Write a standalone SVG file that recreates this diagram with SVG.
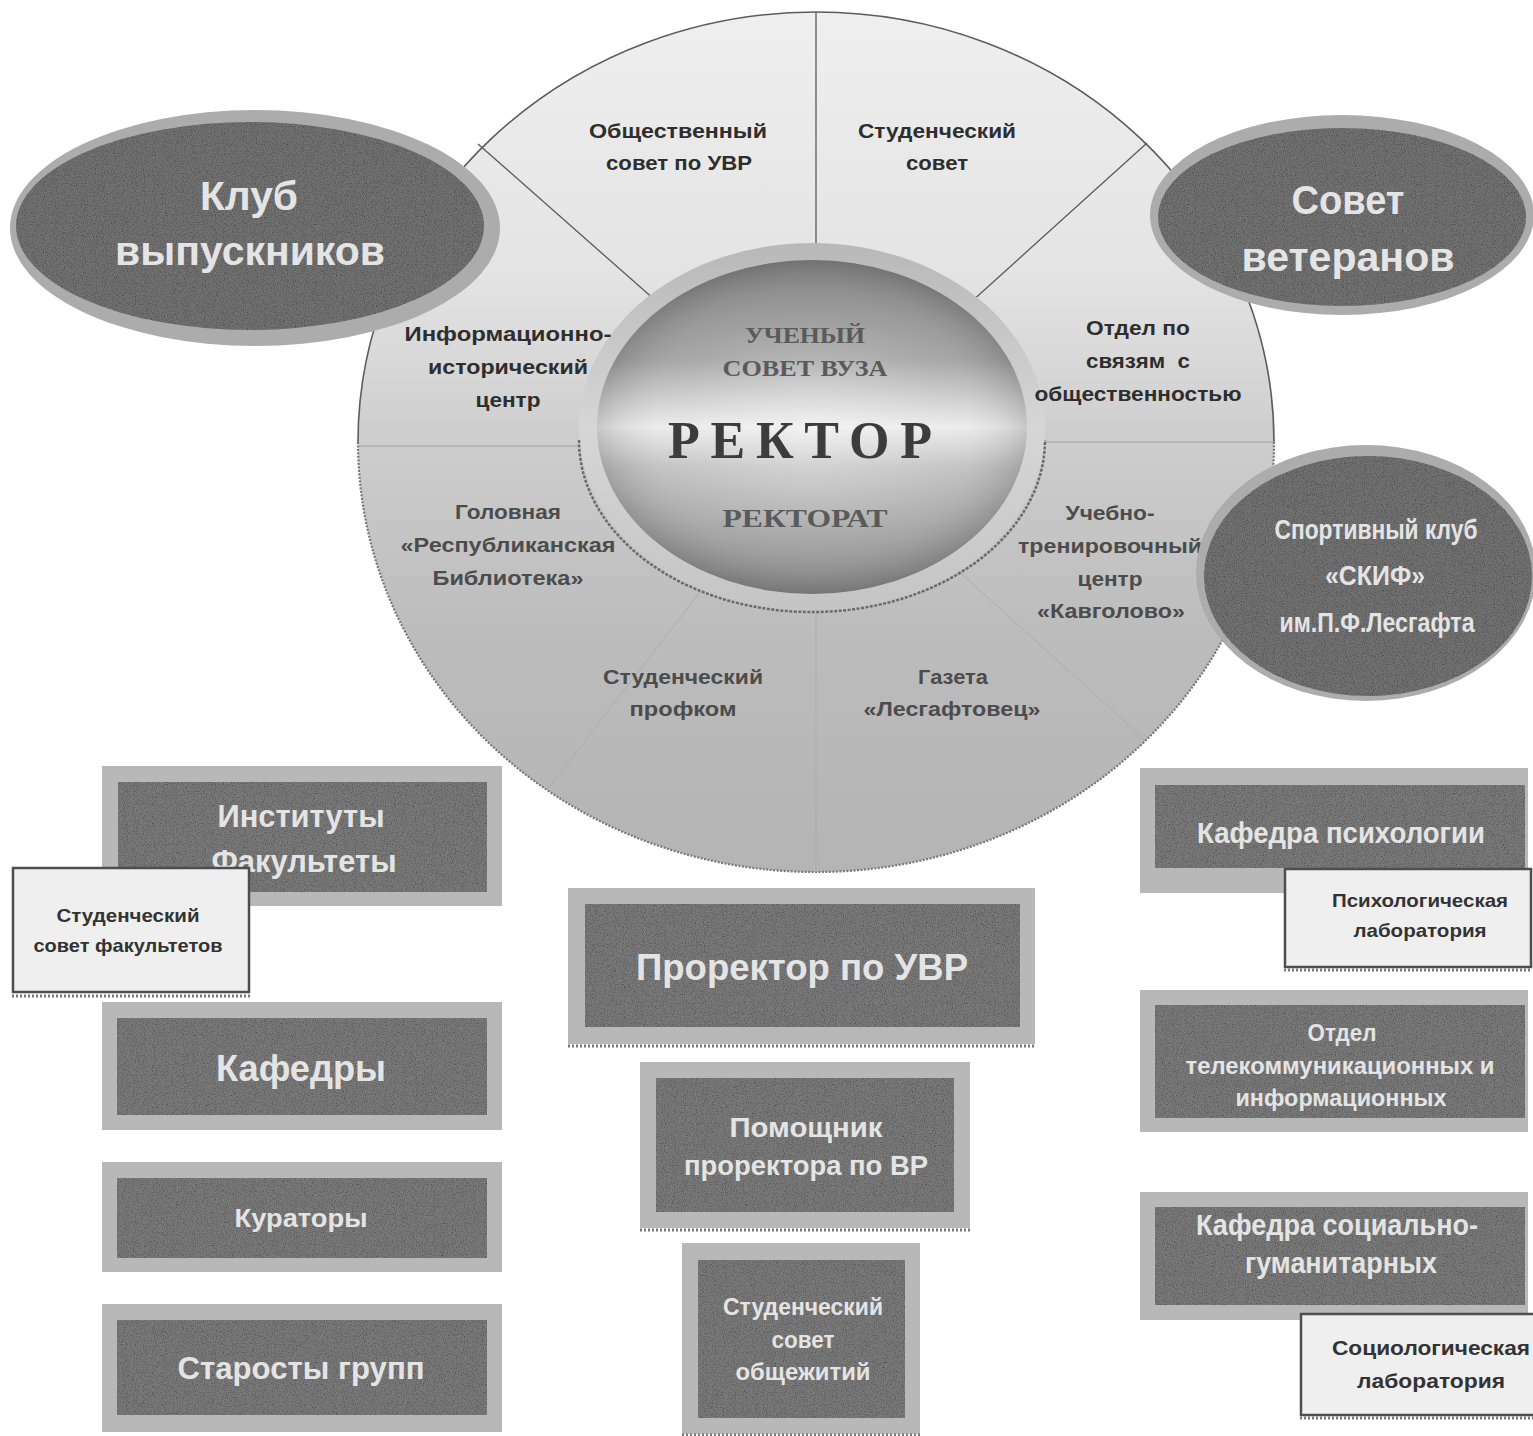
<svg xmlns="http://www.w3.org/2000/svg" width="1533" height="1436" viewBox="0 0 1533 1436">
<defs>
<style>
.lt{font-family:"Liberation Sans",Arial,sans-serif;font-weight:bold;fill:#e4e4e4;text-anchor:middle}
.dk{font-family:"Liberation Sans",Arial,sans-serif;font-weight:bold;fill:#2e2e2e;text-anchor:middle;font-size:21px}
.dk2{font-family:"Liberation Sans",Arial,sans-serif;font-weight:bold;fill:#4c4c4c;text-anchor:middle;font-size:21px}
.lab{font-family:"Liberation Sans",Arial,sans-serif;font-weight:bold;fill:#333;text-anchor:middle}
.sf{font-family:"Liberation Serif","Times New Roman",serif;font-weight:bold;text-anchor:middle}
.outer{fill:#b8b8b8}
.inner{fill:#7a7a7a}
.ringE{fill:#acacac}
.darkE{fill:#727272}
.spoke{stroke:#5a5a5a;stroke-width:1.3;fill:none}
.spokeF{stroke:#a0a0a0;stroke-width:1.2;fill:none}
.spokeL{stroke:#adadad;stroke-width:1;fill:none}
.box{fill:#efefef;stroke:#4e4e4e;stroke-width:2.5}
.dots{stroke:#777;stroke-width:3;stroke-dasharray:2 2;fill:none}
</style>
<linearGradient id="circG" x1="0" y1="0" x2="0" y2="1">
<stop offset="0" stop-color="#efefef"/>
<stop offset="0.3" stop-color="#e4e4e4"/>
<stop offset="0.5" stop-color="#cdcdcd"/>
<stop offset="0.72" stop-color="#bcbcbc"/>
<stop offset="1" stop-color="#b4b4b4"/>
</linearGradient>
<linearGradient id="ringG" x1="0" y1="0" x2="0" y2="1">
<stop offset="0" stop-color="#b8b8b8"/>
<stop offset="0.5" stop-color="#d6d6d6"/>
<stop offset="1" stop-color="#c4c4c4"/>
</linearGradient>
<linearGradient id="coreG" x1="0" y1="0" x2="0" y2="1">
<stop offset="0" stop-color="#858585"/>
<stop offset="0.3" stop-color="#a4a4a4"/>
<stop offset="0.5" stop-color="#ebebeb"/>
<stop offset="0.62" stop-color="#c2c2c2"/>
<stop offset="1" stop-color="#8a8a8a"/>
</linearGradient>
<radialGradient id="coreH" cx="0.5" cy="0.5" r="0.5">
<stop offset="0" stop-color="#ffffff" stop-opacity="0.35"/>
<stop offset="0.7" stop-color="#ffffff" stop-opacity="0.05"/>
<stop offset="1" stop-color="#000000" stop-opacity="0.15"/>
</radialGradient>
<filter id="grain" x="0" y="0" width="100%" height="100%">
<feTurbulence type="fractalNoise" baseFrequency="0.9" numOctaves="2" seed="4" result="n"/>
<feColorMatrix in="n" type="matrix" values="0 0 0 0 0  0 0 0 0 0  0 0 0 0 0  1.4 0 0 0 -0.6" result="g"/>
<feComposite in="g" in2="SourceGraphic" operator="in" result="gm"/>
<feMerge><feMergeNode in="SourceGraphic"/><feMergeNode in="gm"/></feMerge>
</filter>
</defs>
<rect width="1533" height="1436" fill="#ffffff"/>

<g id="main-circle">
<ellipse cx="816" cy="442" rx="458" ry="430" fill="url(#circG)"/>
<path d="M358,442 A458,430 0 0 1 1274,442" fill="none" stroke="#5c5c5c" stroke-width="1.6"/>
<path d="M358,442 A458,430 0 0 0 1274,442" fill="none" stroke="#777" stroke-width="2.2" stroke-dasharray="2 1.5"/>
</g>

<g id="connectors">
<line class="spoke" x1="816" y1="442" x2="816" y2="12"/>
<line class="spoke" x1="816" y1="442" x2="478" y2="144"/>
<line class="spoke" x1="816" y1="442" x2="1147" y2="143"/>
<line class="spokeF" x1="816" y1="446" x2="358" y2="446"/>
<line class="spokeF" x1="816" y1="442" x2="1274" y2="442"/>
<line class="spokeL" x1="816" y1="442" x2="547" y2="790"/>
<line class="spokeL" x1="816" y1="442" x2="1145" y2="740"/>
<line class="spokeL" x1="816" y1="442" x2="816" y2="872"/>
</g>

<g id="rector">
<ellipse cx="812" cy="428" rx="233" ry="185" fill="url(#ringG)"/>
<path d="M579,440 A233,172 0 0 0 1045,440" fill="none" stroke="#6a6a6a" stroke-width="2.5" stroke-dasharray="3 1.5"/>
<ellipse cx="812" cy="427" rx="215" ry="167" fill="url(#coreG)"/>
<ellipse cx="812" cy="427" rx="215" ry="167" fill="url(#coreH)"/>
<text class="sf" x="805" y="343" font-size="24" fill="#5a5a5a" textLength="120" lengthAdjust="spacingAndGlyphs">УЧЕНЫЙ</text>
<text class="sf" x="805" y="376" font-size="24" fill="#5a5a5a" textLength="165" lengthAdjust="spacingAndGlyphs">СОВЕТ ВУЗА</text>
<text class="sf" x="800" y="458" font-size="52" fill="#3c3c3c" textLength="264" lengthAdjust="spacing">РЕКТОР</text>
<text class="sf" x="805" y="527" font-size="26" fill="#5a5a5a" textLength="165" lengthAdjust="spacingAndGlyphs">РЕКТОРАТ</text>
</g>

<g id="sector-obshch-sovet">
<text class="dk" x="678" y="138" textLength="178" lengthAdjust="spacingAndGlyphs">Общественный</text>
<text class="dk" x="679" y="170" textLength="146" lengthAdjust="spacingAndGlyphs">совет по УВР</text>
</g>
<g id="sector-stud-sovet">
<text class="dk" x="937" y="138" textLength="158" lengthAdjust="spacingAndGlyphs">Студенческий</text>
<text class="dk" x="937" y="170" textLength="62" lengthAdjust="spacingAndGlyphs">совет</text>
</g>
<g id="sector-info-center">
<text class="dk" x="508" y="341" textLength="207" lengthAdjust="spacingAndGlyphs">Информационно-</text>
<text class="dk" x="508" y="374" textLength="160" lengthAdjust="spacingAndGlyphs">исторический</text>
<text class="dk" x="508" y="407" textLength="65" lengthAdjust="spacingAndGlyphs">центр</text>
</g>
<g id="sector-pr">
<text class="dk" x="1138" y="335" textLength="104" lengthAdjust="spacingAndGlyphs">Отдел по</text>
<text class="dk" x="1138" y="368" textLength="104" lengthAdjust="spacingAndGlyphs" xml:space="preserve">связям  с</text>
<text class="dk" x="1138" y="401" textLength="207" lengthAdjust="spacingAndGlyphs">общественностью</text>
</g>
<g id="sector-library">
<text class="dk2" x="508" y="519" textLength="106" lengthAdjust="spacingAndGlyphs">Головная</text>
<text class="dk2" x="508" y="552" textLength="215" lengthAdjust="spacingAndGlyphs">«Республиканская</text>
<text class="dk2" x="508" y="585" textLength="151" lengthAdjust="spacingAndGlyphs">Библиотека»</text>
</g>
<g id="sector-kavgolovo">
<text class="dk2" x="1110" y="520" textLength="89" lengthAdjust="spacingAndGlyphs">Учебно-</text>
<text class="dk2" x="1110" y="553" textLength="184" lengthAdjust="spacingAndGlyphs">тренировочный</text>
<text class="dk2" x="1110" y="586" textLength="65" lengthAdjust="spacingAndGlyphs">центр</text>
<text class="dk2" x="1111" y="618" textLength="148" lengthAdjust="spacingAndGlyphs">«Кавголово»</text>
</g>
<g id="sector-profkom">
<text class="dk2" x="683" y="684" fill="#5a5a5a" textLength="160" lengthAdjust="spacingAndGlyphs">Студенческий</text>
<text class="dk2" x="683" y="716" fill="#5a5a5a" textLength="107" lengthAdjust="spacingAndGlyphs">профком</text>
</g>
<g id="sector-gazeta">
<text class="dk2" x="953" y="684" fill="#5a5a5a" textLength="70" lengthAdjust="spacingAndGlyphs">Газета</text>
<text class="dk2" x="952" y="716" fill="#5a5a5a" textLength="177" lengthAdjust="spacingAndGlyphs">«Лесгафтовец»</text>
</g>

<g id="klub-vypusknikov">
<ellipse class="ringE" cx="255" cy="228" rx="245" ry="118"/>
<ellipse class="darkE" cx="250" cy="226" rx="234" ry="104" filter="url(#grain)"/>
<text class="lt" x="249" y="210" font-size="40" textLength="98" lengthAdjust="spacingAndGlyphs">Клуб</text>
<text class="lt" x="250" y="265" font-size="40" textLength="270" lengthAdjust="spacingAndGlyphs">выпускников</text>
</g>

<g id="sovet-veteranov">
<ellipse class="ringE" cx="1342" cy="215" rx="192" ry="100"/>
<ellipse class="darkE" cx="1342" cy="217" rx="184" ry="89" filter="url(#grain)"/>
<text class="lt" x="1348" y="214" font-size="40" textLength="113" lengthAdjust="spacingAndGlyphs">Совет</text>
<text class="lt" x="1348" y="271" font-size="40" textLength="213" lengthAdjust="spacingAndGlyphs">ветеранов</text>
</g>

<g id="sport-klub">
<ellipse class="ringE" cx="1366" cy="573" rx="170" ry="128"/>
<ellipse class="darkE" cx="1368" cy="576" rx="164" ry="120" filter="url(#grain)"/>
<text class="lt" x="1376" y="539" font-size="28" font-weight="normal" textLength="203" lengthAdjust="spacingAndGlyphs">Спортивный клуб</text>
<text class="lt" x="1375" y="585" font-size="28" font-weight="normal" textLength="100" lengthAdjust="spacingAndGlyphs">«СКИФ»</text>
<text class="lt" x="1377" y="632" font-size="28" font-weight="normal" textLength="195" lengthAdjust="spacingAndGlyphs">им.П.Ф.Лесгафта</text>
</g>

<g id="instituty">
<rect class="outer" x="102" y="766" width="400" height="140"/>
<rect class="inner" x="118" y="782" width="369" height="110" filter="url(#grain)"/>
<text class="lt" x="301" y="827" font-size="32" textLength="167" lengthAdjust="spacingAndGlyphs">Институты</text>
<text class="lt" x="304" y="872" font-size="32" textLength="185" lengthAdjust="spacingAndGlyphs">Факультеты</text>
</g>

<g id="stud-sovet-fakultetov">
<rect class="box" x="13" y="868" width="236" height="124"/>
<line class="dots" x1="12" y1="996" x2="250" y2="996"/>
<text class="lab" x="128" y="922" font-size="19" textLength="143" lengthAdjust="spacingAndGlyphs">Студенческий</text>
<text class="lab" x="128" y="952" font-size="19" textLength="189" lengthAdjust="spacingAndGlyphs">совет факультетов</text>
</g>

<g id="kafedry">
<rect class="outer" x="102" y="1002" width="400" height="128"/>
<rect class="inner" x="117" y="1018" width="370" height="97" filter="url(#grain)"/>
<text class="lt" x="301" y="1081" font-size="36" textLength="170" lengthAdjust="spacingAndGlyphs">Кафедры</text>
</g>

<g id="kuratory">
<rect class="outer" x="102" y="1162" width="400" height="110"/>
<rect class="inner" x="117" y="1178" width="370" height="80" filter="url(#grain)"/>
<text class="lt" x="301" y="1227" font-size="26" textLength="133" lengthAdjust="spacingAndGlyphs">Кураторы</text>
</g>

<g id="starosty">
<rect class="outer" x="102" y="1304" width="400" height="128"/>
<rect class="inner" x="117" y="1320" width="370" height="95" filter="url(#grain)"/>
<text class="lt" x="301" y="1379" font-size="32" textLength="247" lengthAdjust="spacingAndGlyphs">Старосты групп</text>
</g>

<g id="prorektor">
<rect class="outer" x="568" y="888" width="467" height="156"/>
<rect class="inner" x="585" y="904" width="435" height="123" filter="url(#grain)"/>
<line class="dots" x1="568" y1="1046" x2="1035" y2="1046"/>
<text class="lt" x="802" y="980" font-size="36" textLength="332" lengthAdjust="spacingAndGlyphs">Проректор по УВР</text>
</g>

<g id="pomoshnik">
<rect class="outer" x="640" y="1062" width="330" height="166"/>
<rect class="inner" x="656" y="1078" width="298" height="134" filter="url(#grain)"/>
<line class="dots" x1="640" y1="1230" x2="970" y2="1230"/>
<text class="lt" x="806" y="1137" font-size="28" textLength="153" lengthAdjust="spacingAndGlyphs">Помощник</text>
<text class="lt" x="806" y="1175" font-size="28" textLength="244" lengthAdjust="spacingAndGlyphs">проректора по ВР</text>
</g>

<g id="stud-sovet-obshchezhitiy">
<rect class="outer" x="682" y="1243" width="238" height="191"/>
<rect class="inner" x="698" y="1260" width="207" height="158" filter="url(#grain)"/>
<line class="dots" x1="682" y1="1435" x2="920" y2="1435"/>
<text class="lt" x="803" y="1315" font-size="23" textLength="160" lengthAdjust="spacingAndGlyphs">Студенческий</text>
<text class="lt" x="803" y="1348" font-size="23" textLength="63" lengthAdjust="spacingAndGlyphs">совет</text>
<text class="lt" x="803" y="1380" font-size="23" textLength="135" lengthAdjust="spacingAndGlyphs">общежитий</text>
</g>

<g id="kafedra-psikhologii">
<rect class="outer" x="1140" y="768" width="388" height="125"/>
<rect class="inner" x="1155" y="785" width="370" height="83" filter="url(#grain)"/>
<text class="lt" x="1341" y="843" font-size="30" font-weight="normal" textLength="288" lengthAdjust="spacingAndGlyphs">Кафедра психологии</text>
</g>

<g id="psikh-laboratoriya">
<rect class="box" x="1285" y="869" width="246" height="98"/>
<line class="dots" x1="1284" y1="970" x2="1530" y2="970"/>
<text class="lab" x="1420" y="907" font-size="19" textLength="176" lengthAdjust="spacingAndGlyphs">Психологическая</text>
<text class="lab" x="1420" y="937" font-size="19" textLength="133" lengthAdjust="spacingAndGlyphs">лаборатория</text>
</g>

<g id="otdel-telekom">
<rect class="outer" x="1140" y="990" width="388" height="142"/>
<rect class="inner" x="1155" y="1005" width="370" height="113" filter="url(#grain)"/>
<text class="lt" x="1342" y="1041" font-size="23" font-weight="normal" textLength="69" lengthAdjust="spacingAndGlyphs">Отдел</text>
<text class="lt" x="1340" y="1074" font-size="23" font-weight="normal" textLength="309" lengthAdjust="spacingAndGlyphs">телекоммуникационных и</text>
<text class="lt" x="1341" y="1106" font-size="23" font-weight="normal" textLength="211" lengthAdjust="spacingAndGlyphs">информационных</text>
</g>

<g id="kafedra-sots-gum">
<rect class="outer" x="1140" y="1192" width="388" height="128"/>
<rect class="inner" x="1155" y="1207" width="370" height="98" filter="url(#grain)"/>
<text class="lt" x="1337" y="1235" font-size="30" font-weight="normal" textLength="282" lengthAdjust="spacingAndGlyphs">Кафедра социально-</text>
<text class="lt" x="1341" y="1273" font-size="30" font-weight="normal" textLength="192" lengthAdjust="spacingAndGlyphs">гуманитарных</text>
</g>

<g id="sots-laboratoriya">
<rect class="box" x="1301" y="1314" width="234" height="101"/>
<line class="dots" x1="1300" y1="1418" x2="1533" y2="1418"/>
<text class="lab" x="1431" y="1355" font-size="21" font-weight="normal" textLength="198" lengthAdjust="spacingAndGlyphs">Социологическая</text>
<text class="lab" x="1431" y="1388" font-size="21" font-weight="normal" textLength="148" lengthAdjust="spacingAndGlyphs">лаборатория</text>
</g>
</svg>
